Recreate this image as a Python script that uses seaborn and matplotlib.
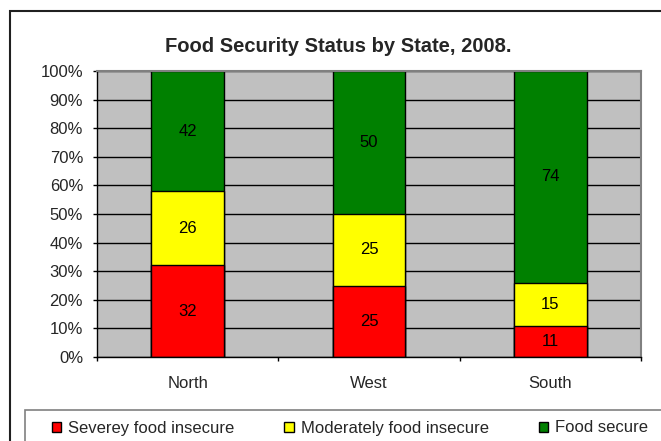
import numpy as np
import pandas as pd
import seaborn as sns
import matplotlib.pyplot as plt
from matplotlib.patches import Patch, Rectangle
from matplotlib.ticker import FuncFormatter

# data
states = ["North", "West", "South"]
severe = [32, 25, 11]
moderate = [26, 25, 15]
secure = [42, 50, 74]
series_names = ["Severey food insecure", "Moderately food insecure", "Food secure"]
series_colors = ["#FF0000", "#FFFF00", "#008000"]

df = pd.DataFrame({"State": states, "severe": severe,
                   "moderate": moderate, "secure": secure})
df["cum1"] = df["severe"]
df["cum2"] = df["severe"] + df["moderate"]
df["cum3"] = df["cum2"] + df["secure"]

sns.set_style("white")
plt.rcParams["font.family"] = ["Liberation Sans", "DejaVu Sans"]

W, H = 661, 441
fig = plt.figure(figsize=(W / 100, H / 100), dpi=100)
ax = fig.add_axes([97 / W, 1 - 357 / H, 544 / W, 286 / H])
ax.set_facecolor("#C0C0C0")
ax.set_axisbelow(True)
ax.yaxis.grid(True, color="black", linewidth=1)

# stacked bars: draw cumulative totals, tallest first
for col, c in zip(["cum3", "cum2", "cum1"], series_colors[::-1]):
    sns.barplot(data=df, x="State", y=col, color=c, width=0.4,
                edgecolor="black", linewidth=1, saturation=1, ax=ax)

# segment labels
for i, st in enumerate(states):
    bottoms = [0, severe[i], severe[i] + moderate[i]]
    for b, v in zip(bottoms, [severe[i], moderate[i], secure[i]]):
        ax.text(i, b + v / 2, str(v), ha="center", va="center", fontsize=12, color="black")

ax.set_ylim(0, 100)
ax.set_xlim(-0.5, 2.5)
ax.set_yticks(np.arange(0, 101, 10))
ax.yaxis.set_major_formatter(FuncFormatter(lambda v, p: "%d%%" % v))
ax.set_xlabel("")
ax.set_ylabel("")
ax.tick_params(axis="y", direction="out", length=3, width=1, color="black",
               pad=7, labelsize=12, left=True)
ax.tick_params(axis="x", which="major", length=0, pad=14, labelsize=12)
ax.set_xticks([-0.5, 0.5, 1.5, 2.5], minor=True)
ax.tick_params(axis="x", which="minor", direction="out", length=3, width=1,
               color="black", bottom=True)

for s in ["left", "bottom"]:
    ax.spines[s].set_color("black")
    ax.spines[s].set_linewidth(1)
for s in ["top", "right"]:
    ax.spines[s].set_color("#808080")
    ax.spines[s].set_linewidth(1.5)

fig.text(338 / W, 1 - 46 / H, "Food Security Status by State, 2008.",
         ha="center", va="center", fontsize=14.5, fontweight="bold")

# outer chart border and legend box (both run off the image edge)
fig.patches.append(Rectangle((9.5 / W, -0.1), 1.2, 1.1 - 11 / H, transform=fig.transFigure,
                             fill=False, edgecolor="#202020", linewidth=1.5))
fig.patches.append(Rectangle((25 / W, -0.1), 1.2, 0.1 + (H - 410) / H, transform=fig.transFigure,
                             fill=False, edgecolor="#808080", linewidth=1.2))

handles = [Patch(facecolor=c, edgecolor="black", linewidth=1) for c in series_colors]
fig.legend(handles, series_names, loc="center left", ncol=3, frameon=False,
           bbox_to_anchor=(52 / W, 1 - 428 / H), borderpad=0, borderaxespad=0,
           handlelength=0.55, handleheight=0.55, handletextpad=0.42,
           columnspacing=3.0, fontsize=12)

fig.savefig("out.png", dpi=100)
